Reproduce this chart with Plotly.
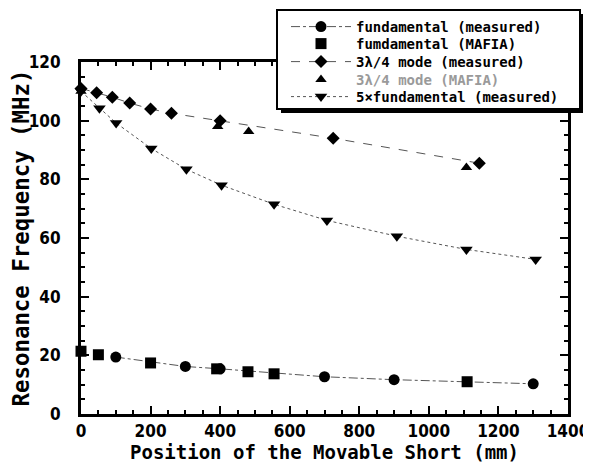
import plotly.graph_objects as go

# ---- data ----
fund_meas_x = [100, 300, 400, 700, 900, 1300]
fund_meas_y = [19.4, 16.2, 15.4, 12.7, 11.7, 10.3]

fund_mafia_x = [0, 50, 200, 390, 480, 555, 1110]
fund_mafia_y = [21.4, 20.2, 17.4, 15.4, 14.4, 13.7, 11.0]

mode34_meas_x = [0, 45, 90, 140, 200, 260, 400, 725, 1145]
mode34_meas_y = [111.0, 109.5, 108.0, 106.0, 104.0, 102.5, 100.0, 94.0, 85.5]

mode34_mafia_x = [0, 393, 482, 1108]
mode34_mafia_y = [110.0, 98.0, 96.3, 84.0]

five_fund_x = [0, 53, 101, 202, 303, 404, 555, 707, 908, 1108, 1307]
five_fund_y = [110.0, 104.2, 99.2, 90.5, 83.4, 78.0, 71.5, 66.0, 60.6, 56.1, 52.7]

x_ticks = [0, 200, 400, 600, 800, 1000, 1200, 1400]
y_ticks = [0, 20, 40, 60, 80, 100, 120]

names = [
    "fundamental (measured)",
    "fumdamental (MAFIA)",
    "3λ/4 mode (measured)",
    "<span style='color:#9a9a9a'>3λ/4 mode (MAFIA)</span>",
    "5×fundamental (measured)",
]

LINE_COL = "#555555"
legends = ["legend", "legend2", "legend3", "legend4", "legend5"]

fig = go.Figure()
fig.add_trace(go.Scatter(
    x=fund_meas_x, y=fund_meas_y, name=names[0], mode="lines+markers", legend=legends[0],
    line=dict(color=LINE_COL, width=1, dash="dashdot"),
    marker=dict(symbol="circle", size=11, color="black"), cliponaxis=False))
fig.add_trace(go.Scatter(
    x=fund_mafia_x, y=fund_mafia_y, name=names[1], mode="markers", legend=legends[1],
    marker=dict(symbol="square", size=11, color="black"), cliponaxis=False))
fig.add_trace(go.Scatter(
    x=mode34_meas_x, y=mode34_meas_y, name=names[2], mode="lines+markers", legend=legends[2],
    line=dict(color=LINE_COL, width=1, dash="dash"),
    marker=dict(symbol="diamond", size=10, color="black"), cliponaxis=False))
fig.add_trace(go.Scatter(
    x=mode34_mafia_x, y=mode34_mafia_y, name=names[3], mode="markers", legend=legends[3],
    marker=dict(symbol="triangle-up", size=10, color="black"), cliponaxis=False))
fig.add_trace(go.Scatter(
    x=five_fund_x, y=five_fund_y, name=names[4], mode="lines+markers", legend=legends[4],
    line=dict(color=LINE_COL, width=1, dash="dot"),
    marker=dict(symbol="triangle-down", size=11, color="black"), cliponaxis=False))

# The page body has an 8px default margin; work in window pixels and convert.
OFF = 8
W, H = 583, 463                     # figure size: ends exactly at the window edge
PL, PR, PT, PB = 81, 568, 62, 414   # plot area edges in window pixels
L, T = PL - OFF, PT - OFF
R, B = (W + OFF) - PR, (H + OFF) - PB
pw, ph = PR - PL, PB - PT


def px(xp):
    return (xp - PL) / pw


def py(yp):
    return (PB - yp) / ph


TICKFONT = dict(family="Liberation Sans Narrow, DejaVu Sans Condensed, Arial Narrow",
                size=17, color="black", weight="bold")
TITLEFONT = dict(family="DejaVu Sans Mono, Liberation Mono", size=19,
                 color="black", weight="bold")

axis_common = dict(
    showline=True, linewidth=3, linecolor="black", mirror="ticks",
    ticks="inside", ticklen=8, tickwidth=2, tickcolor="black",
    showgrid=False, zeroline=False, tickfont=TICKFONT, automargin=False,
    ticklabeloverflow="allow",
)

fig.update_xaxes(
    range=[0, 1400], tickvals=x_ticks, ticktext=[str(v) for v in x_ticks],
    minor=dict(dtick=50, tick0=0, ticks="inside", ticklen=4, tickwidth=1.5, tickcolor="black"),
    title=dict(text="Position of the Movable Short (mm)", font=TITLEFONT, standoff=5),
    **axis_common)
fig.update_yaxes(
    range=[0, 120], tickvals=y_ticks, ticktext=[str(v) for v in y_ticks],
    ticklabelstandoff=14,
    minor=dict(dtick=5, tick0=0, ticks="inside", ticklen=4, tickwidth=1.5, tickcolor="black"),
    title=dict(text="Resonance Frequency (MHz)", font=dict(TITLEFONT, size=22.4), standoff=10),
    **axis_common)

# legend box with drop shadow
fig.add_shape(type="rect", xref="paper", yref="paper",
              x0=px(281), x1=px(584), y0=py(113), y1=py(14),
              fillcolor="black", line=dict(width=0), layer="above")
fig.add_shape(type="rect", xref="paper", yref="paper",
              x0=px(277), x1=px(580), y0=py(109), y1=py(10),
              fillcolor="white", line=dict(color="black", width=2), layer="above")

row_y = [27, 44, 62, 80, 97]
legend_layouts = {}
for key, ry in zip(legends, row_y):
    legend_layouts[key] = dict(
        x=px(286), y=py(ry), xanchor="left", yanchor="middle",
        bgcolor="rgba(0,0,0,0)", borderwidth=0,
        font=dict(family="DejaVu Sans Mono, Liberation Mono", size=14,
                  color="black", weight="bold"),
        itemwidth=60,
    )

fig.update_layout(
    width=W, height=H,
    margin=dict(l=L, r=R, t=T, b=B, autoexpand=False),
    paper_bgcolor="white", plot_bgcolor="white",
    showlegend=True,
    **legend_layouts,
)

fig.write_html("out.html")
